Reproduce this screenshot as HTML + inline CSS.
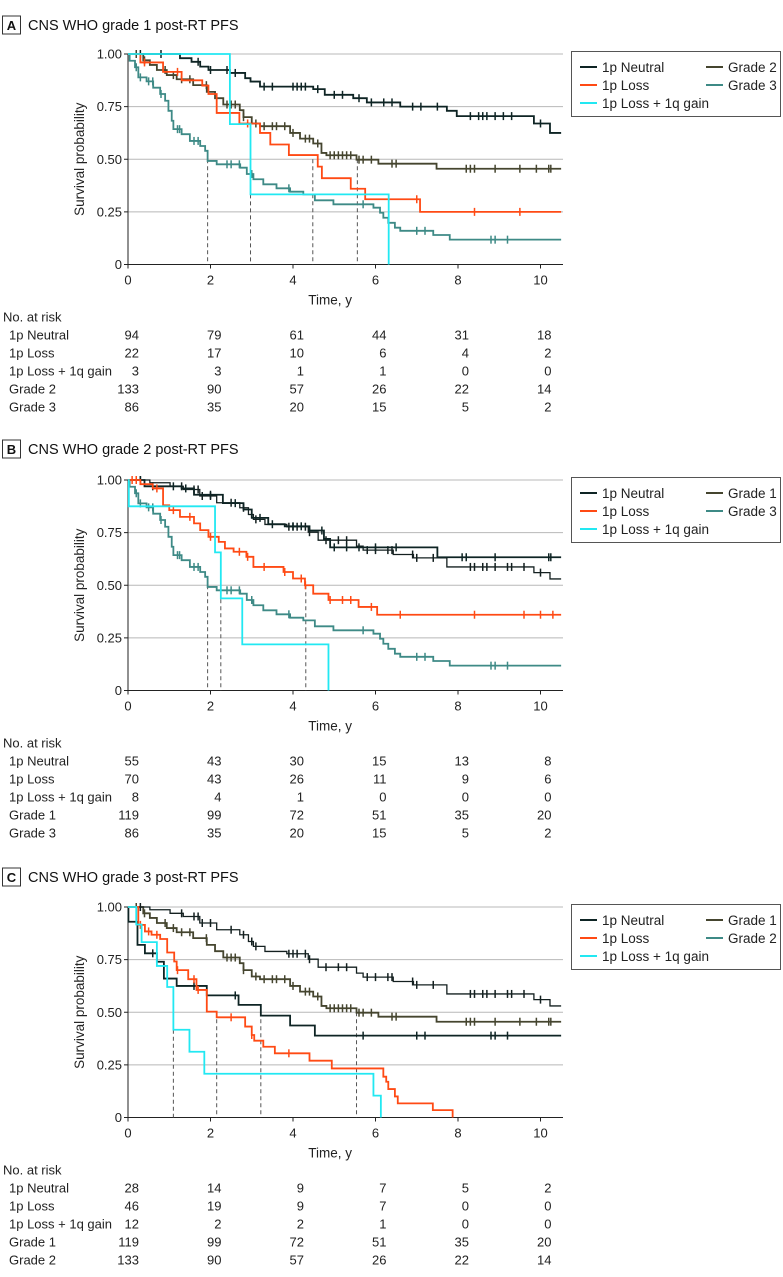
<!DOCTYPE html>
<html><head><meta charset="utf-8"><title>Post-RT PFS Kaplan-Meier</title>
<style>
html,body{margin:0;padding:0;background:#fff;}
svg{display:block;font-family:"Liberation Sans",sans-serif;}
</style></head>
<body>
<svg id="fig" width="783" height="1277" viewBox="0 0 783 1277" xmlns="http://www.w3.org/2000/svg"></svg>
<script>
// ---------- data ----------
const tickYears = [0, 2, 4, 6, 8, 10];
const yTicks = [1.00, 0.75, 0.50, 0.25, 0];
const yTickLabels = ["1.00", "0.75", "0.50", "0.25", "0"];

const aNeutralT = [0,1.26,1.54,1.75,1.95,2.47,2.84,2.97,3.2,4.49,4.77,5.46,5.79,6.6,7.73,7.97,9.84,10.23];
const aNeutralS = [1,0.98,0.963,0.94,0.924,0.91,0.885,0.869,0.845,0.833,0.806,0.79,0.77,0.75,0.73,0.705,0.67,0.625];
const aNeutralC = [0.3,0.8,1.7,2.0,2.4,2.6,3.3,3.5,4.0,4.1,4.2,4.3,4.6,5.0,5.2,5.6,5.9,6.2,6.4,6.9,7.1,7.5,8.3,8.5,8.6,8.7,8.9,9.1,9.3,10.0];
const aLossT = [0,0.3,0.85,1.3,1.8,1.95,2.15,2.7,3.2,3.45,3.9,4.6,4.7,5.4,5.75,7.08];
const aLossS = [1,0.96,0.915,0.875,0.85,0.81,0.72,0.67,0.625,0.57,0.52,0.465,0.41,0.36,0.31,0.25];
const aLossC = [0.4,1.2,2.9,7.0,8.4,9.5];
const aGainT = [0,2.47,2.97,6.32];
const aGainS = [1,0.667,0.333,0];

const grade1T = [0,0.53,1.02,1.34,1.74,2.15,2.71,2.92,3.04,3.32,3.85,4.37,4.61,5.54,5.7,6.43,6.92,7.73,9.84,10.23];
const grade1S = [1,0.987,0.97,0.955,0.924,0.892,0.868,0.836,0.813,0.789,0.778,0.752,0.714,0.686,0.667,0.646,0.63,0.587,0.56,0.53];
const grade1C = [0.3,1.3,1.6,1.7,1.8,2.0,2.5,2.8,3.0,3.1,3.9,4.0,4.1,4.3,4.4,4.8,5.1,5.3,5.8,6.0,6.3,6.4,6.9,7.0,7.4,8.3,8.4,8.6,8.7,8.9,9.2,9.3,9.6,10.0];
const grade2T = [0,0.37,0.53,0.7,0.94,1.18,1.58,1.91,2.11,2.31,2.71,2.8,3.0,3.2,3.93,4.17,4.49,4.69,4.81,5.54,6.07,7.48];
const grade2S = [1,0.97,0.948,0.924,0.9,0.88,0.852,0.82,0.79,0.76,0.733,0.70,0.67,0.657,0.625,0.598,0.575,0.53,0.519,0.498,0.479,0.455];
const grade2C = [0.2,0.4,0.9,1.1,1.3,1.5,1.9,2.4,2.5,2.6,2.8,3.1,3.3,3.5,3.6,3.8,4.0,4.3,4.4,4.6,4.9,5.0,5.1,5.2,5.3,5.4,5.6,5.7,5.9,6.4,6.5,8.2,8.3,8.4,8.9,9.5,9.9,10.2,10.25];
const grade3T = [0,0.04,0.17,0.25,0.45,0.61,0.78,0.9,0.98,1.06,1.1,1.3,1.5,1.75,1.87,1.93,2.15,2.72,2.88,3.04,3.28,3.6,3.93,4.25,4.53,4.98,5.95,6.11,6.19,6.31,6.47,6.6,7.4,7.8];
const grade3S = [1,0.968,0.937,0.889,0.87,0.84,0.81,0.778,0.73,0.683,0.643,0.619,0.587,0.563,0.54,0.492,0.476,0.46,0.43,0.405,0.381,0.362,0.346,0.333,0.305,0.286,0.27,0.246,0.222,0.198,0.175,0.16,0.14,0.118];
const grade3C = [0.2,0.3,0.5,0.6,0.8,1.2,1.25,1.6,1.7,2.4,2.5,2.7,3.0,3.9,5.7,7.0,7.2,8.8,8.9,9.2];

const bNeutralT = [0,0.4,1.3,1.6,2.3,2.8,3.0,3.4,3.8,4.4,4.75,4.9,7.5];
const bNeutralS = [1,0.97,0.96,0.93,0.89,0.86,0.82,0.79,0.78,0.76,0.72,0.68,0.633];
const bNeutralC = [0.3,0.6,1.1,1.4,2.0,2.6,3.2,3.5,4.0,4.2,4.7,5.0,5.3,5.6,6.0,6.5,8.1,8.2,8.9,10.2,10.25];
const bLossT = [0,0.3,0.6,0.85,1.0,1.26,1.6,1.75,1.95,2.2,2.35,2.56,2.87,3.04,3.77,4.0,4.29,4.49,4.86,5.59,6.04];
const bLossS = [1,0.98,0.96,0.88,0.857,0.825,0.794,0.762,0.73,0.706,0.675,0.659,0.635,0.587,0.563,0.532,0.5,0.46,0.43,0.397,0.36];
const bLossC = [0.1,0.2,0.7,1.1,1.5,2.0,2.7,2.9,3.3,3.8,4.2,4.3,4.9,5.2,5.4,5.9,6.6,8.4,9.6,10.0,10.3];
const bGainT = [0,0.02,2.11,2.25,2.77,4.86];
const bGainS = [1,0.875,0.656,0.4375,0.219,0];

const cNeutralT = [0,0.01,0.23,0.41,0.7,0.87,1.18,1.91,2.68,3.22,3.93,4.53];
const cNeutralS = [1,0.93,0.82,0.78,0.74,0.66,0.625,0.58,0.535,0.484,0.437,0.389];
const cNeutralC = [0.6,1.6,2.6,5.7,7.0,7.2,8.8,8.9,9.2];
const cLossT = [0,0.25,0.41,0.57,0.78,0.95,1.12,1.18,1.46,1.66,1.91,2.15,2.84,3.0,3.06,3.28,3.56,4.4,4.94,6.19,6.26,6.31,6.47,6.54,7.39,7.87];
const cLossS = [1,0.915,0.884,0.868,0.848,0.784,0.741,0.70,0.657,0.606,0.503,0.476,0.432,0.392,0.365,0.336,0.305,0.27,0.233,0.194,0.17,0.135,0.10,0.067,0.035,0];
const cLossC = [0.3,0.5,0.7,1.2,1.6,1.7,2.5,3.0,3.9];
const cGainT = [0,0.2,0.33,0.70,0.95,1.10,1.49,1.85,5.95,6.13];
const cGainS = [1,0.917,0.833,0.72,0.62,0.417,0.3125,0.208,0.104,0];

const aMedT = [1.93,2.97,4.48,5.56];
const aMedS = [0.5,0.333,0.5,0.5];
const bMedT = [1.93,2.25,4.31];
const bMedS = [0.5,0.5,0.5];
const cMedT = [1.1,2.15,3.22,5.54];
const cMedS = [0.417,0.5,0.5,0.5];

const aRiskLabels = ["1p Neutral","1p Loss","1p Loss + 1q gain","Grade 2","Grade 3"];
const aRisk = [[94,79,61,44,31,18],[22,17,10,6,4,2],[3,3,1,1,0,0],[133,90,57,26,22,14],[86,35,20,15,5,2]];
const bRiskLabels = ["1p Neutral","1p Loss","1p Loss + 1q gain","Grade 1","Grade 3"];
const bRisk = [[55,43,30,15,13,8],[70,43,26,11,9,6],[8,4,1,0,0,0],[119,99,72,51,35,20],[86,35,20,15,5,2]];
const cRiskLabels = ["1p Neutral","1p Loss","1p Loss + 1q gain","Grade 1","Grade 2"];
const cRisk = [[28,14,9,7,5,2],[46,19,9,7,0,0],[12,2,2,1,0,0],[119,99,72,51,35,20],[133,90,57,26,22,14]];

// ---------- rendering ----------
const NS = "http://www.w3.org/2000/svg";
const svg = document.getElementById("fig");
const COL = {neutral:"#0e2424", loss:"#ff4a14", gain:"#22e8f2", olive:"#45452f", teal:"#3e8a86", g1:"#142020"};
const X0 = 128, PX = 41.25, XMAX = 10.5, H = 210.5;
const xS = t => X0 + t * PX;

function mk(tag, attrs, parent) {
  const e = document.createElementNS(NS, tag);
  for (const k in attrs) e.setAttribute(k, attrs[k]);
  (parent || svg).appendChild(e);
  return e;
}
function txt(str, attrs, parent) { const e = mk("text", attrs, parent); e.textContent = str; return e; }
function stepAt(T, S, c) { let v = S[0]; for (let i = 0; i < T.length; i++) if (T[i] <= c) v = S[i]; return v; }

function panel(p) {
  const g = mk("g", {});
  
  
  const yS = s => p.top + (1 - s) * H;
  // title
  const box = mk("rect", {x:2.5, y:p.titleY-9, width:18, height:18, fill:"#fff", stroke:"#333", "stroke-width":1}, g);
  
  
  const tl = txt(p.key.toUpperCase(), {x:11.5, y:p.titleY+5, "font-size":13, "font-weight":"bold", "text-anchor":"middle", fill:"#111"}, g);
  
  
  const tt = txt(p.title, {x:28, y:p.titleY+5, "font-size":14.5, fill:"#111"}, g);
  
  
  // grid + y ticks
  yTicks.forEach((v, i) => {
    if (v > 0) {
      const gl = mk("line", {x1:X0, x2:563, y1:yS(v), y2:yS(v), stroke:"#b8b8b8", "stroke-width":1}, g);
      
      
    }
    const tk = mk("line", {x1:X0-4, x2:X0, y1:yS(v), y2:yS(v), stroke:"#222", "stroke-width":1}, g);
    
    
    const lb = txt(yTickLabels[i], {x:X0-6, y:yS(v)+4.5, "font-size":13, "text-anchor":"end", fill:"#222"}, g);
    
    
  });
  const yt = txt("Survival probability", {x:0, y:0, "font-size":13.5, "text-anchor":"middle", fill:"#222", transform:`translate(84,${p.top+H/2}) rotate(-90)`}, g);
  
  
  // axes
  const ya = mk("line", {x1:X0, x2:X0, y1:p.top, y2:p.top+H, stroke:"#222", "stroke-width":1}, g);
  
  
  const xa = mk("line", {x1:X0, x2:563, y1:p.top+H, y2:p.top+H, stroke:"#222", "stroke-width":1}, g);
  
  
  tickYears.forEach(t => {
    const tk = mk("line", {x1:xS(t), x2:xS(t), y1:p.top+H, y2:p.top+H+4, stroke:"#222", "stroke-width":1}, g);
    
    
    const lb = txt(String(t), {x:xS(t), y:p.top+H+20, "font-size":13, "text-anchor":"middle", fill:"#222"}, g);
    
    
  });
  const xt = txt("Time, y", {x:xS(4.9), y:p.top+H+40, "font-size":13.5, "text-anchor":"middle", fill:"#222"}, g);
  
  
  // median dashed lines
  p.medT.forEach((t, i) => {
    const d = mk("line", {x1:xS(t), x2:xS(t), y1:yS(p.medS[i]), y2:p.top+H, stroke:"#555", "stroke-width":1, "stroke-dasharray":"4,3"}, g);
    
    
  });
  // curves
  p.series.forEach(sr => {
    let d = `M${xS(sr.T[0])},${yS(sr.S[0])}`;
    for (let i = 1; i < sr.T.length; i++) d += `H${xS(sr.T[i])}V${yS(sr.S[i])}`;
    const last = sr.S[sr.S.length-1];
    if (last > 0) d += `H${xS(XMAX)}`;
    const path = mk("path", {d:d, fill:"none", stroke:sr.color, "stroke-width":sr.w || 1.8}, g);
    
    
    (sr.C || []).forEach(c => {
      const y = yS(stepAt(sr.T, sr.S, c));
      const cm = mk("line", {x1:xS(c), x2:xS(c), y1:y-4, y2:y+4, stroke:sr.color, "stroke-width":1.5}, g);
      
      
    });
  });
  // legend
  const lg = mk("g", {}, g);
  
  
  const ly = p.top - 3;
  mk("rect", {x:571.5, y:ly+0.5, width:209, height:65, fill:"#fff", stroke:"#555", "stroke-width":1}, lg);
  p.legend.forEach((e, i) => {
    const col = i < 3 ? 0 : 1;
    const row = i < 3 ? i : i - 3;
    const lx = col ? 706 : 580;
    const yy = ly + 16 + row * 18;
    const ent = mk("g", {}, lg);
    
    
    mk("line", {x1:lx, x2:lx+17, y1:yy, y2:yy, stroke:e[1], "stroke-width":2}, ent);
    txt(e[0], {x:lx+22, y:yy+5, "font-size":13.5, fill:"#222"}, ent);
  });
  // risk table
  const rt = mk("g", {}, g);
  
  
  const r0 = p.top + H;
  txt("No. at risk", {x:3, y:r0+57, "font-size":13, fill:"#222"}, rt);
  p.riskLabels.forEach((lab, i) => {
    const y = r0 + 75 + i * 18;
    const rl = txt(lab, {x:9, y:y, "font-size":13, fill:"#222"}, rt);
    
    
    p.risk[i].forEach((n, j) => {
      const rv = txt(String(n), {x:xS(tickYears[j])+11, y:y, "font-size":13, "text-anchor":"end", fill:"#222"}, rt);
      
      
    });
  });
}

panel({key:"a", title:"CNS WHO grade 1 post-RT PFS", titleY:25, top:54, medT:aMedT, medS:aMedS,
  series:[
    {name:"grade-3", T:grade3T, S:grade3S, C:grade3C, color:COL.teal},
    {name:"grade-2", T:grade2T, S:grade2S, C:grade2C, color:COL.olive},
    {name:"1p-neutral", T:aNeutralT, S:aNeutralS, C:aNeutralC, color:COL.neutral},
    {name:"1p-loss", T:aLossT, S:aLossS, C:aLossC, color:COL.loss},
    {name:"1p-loss-1q-gain", T:aGainT, S:aGainS, C:[], color:COL.gain}
  ],
  legend:[["1p Neutral",COL.neutral],["1p Loss",COL.loss],["1p Loss + 1q gain",COL.gain],["Grade 2",COL.olive],["Grade 3",COL.teal]],
  riskLabels:aRiskLabels, risk:aRisk});

panel({key:"b", title:"CNS WHO grade 2 post-RT PFS", titleY:449, top:480, medT:bMedT, medS:bMedS,
  series:[
    {name:"grade-3", T:grade3T, S:grade3S, C:grade3C, color:COL.teal},
    {name:"grade-1", T:grade1T, S:grade1S, C:grade1C, color:COL.g1, w:1.3},
    {name:"1p-neutral", T:bNeutralT, S:bNeutralS, C:bNeutralC, color:COL.neutral},
    {name:"1p-loss", T:bLossT, S:bLossS, C:bLossC, color:COL.loss},
    {name:"1p-loss-1q-gain", T:bGainT, S:bGainS, C:[], color:COL.gain}
  ],
  legend:[["1p Neutral",COL.neutral],["1p Loss",COL.loss],["1p Loss + 1q gain",COL.gain],["Grade 1",COL.olive],["Grade 3",COL.teal]],
  riskLabels:bRiskLabels, risk:bRisk});

panel({key:"c", title:"CNS WHO grade 3 post-RT PFS", titleY:877, top:907, medT:cMedT, medS:cMedS,
  series:[
    {name:"grade-2", T:grade2T, S:grade2S, C:grade2C, color:COL.olive},
    {name:"grade-1", T:grade1T, S:grade1S, C:grade1C, color:COL.g1, w:1.3},
    {name:"1p-neutral", T:cNeutralT, S:cNeutralS, C:cNeutralC, color:COL.neutral},
    {name:"1p-loss", T:cLossT, S:cLossS, C:cLossC, color:COL.loss},
    {name:"1p-loss-1q-gain", T:cGainT, S:cGainS, C:[], color:COL.gain}
  ],
  legend:[["1p Neutral",COL.neutral],["1p Loss",COL.loss],["1p Loss + 1q gain",COL.gain],["Grade 1",COL.olive],["Grade 2",COL.teal]],
  riskLabels:cRiskLabels, risk:cRisk});
</script>
</body></html>
